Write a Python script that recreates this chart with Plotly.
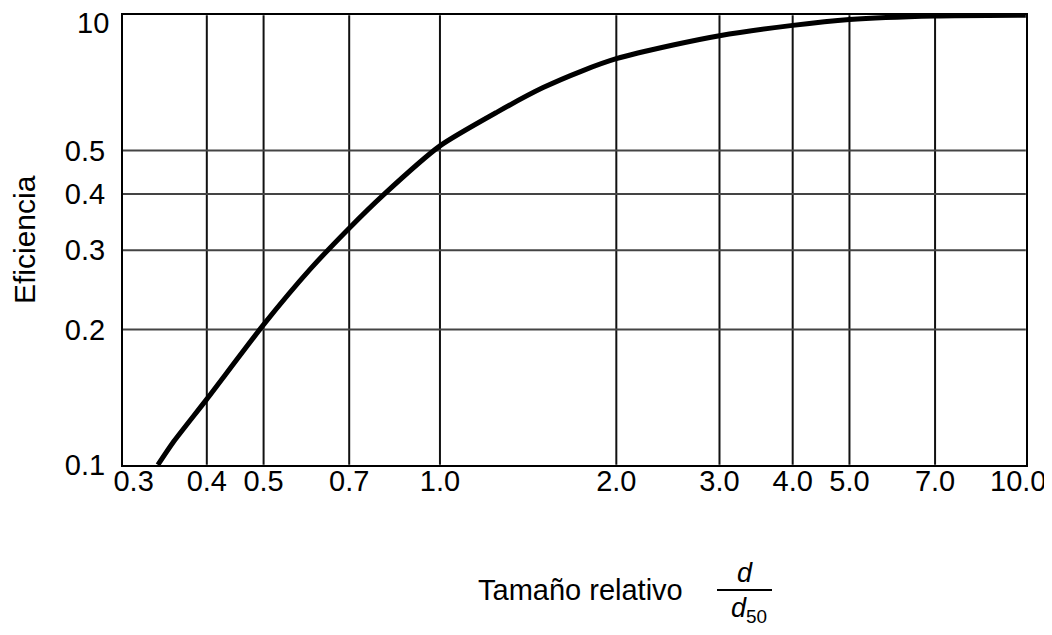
import plotly.graph_objects as go
import math

# ---- data ----
size_ratio = [0.33, 0.35, 0.40, 0.50, 0.60, 0.70, 0.80, 1.00, 1.25, 1.50, 1.75, 2.00, 2.50, 3.00, 4.00, 5.00, 7.00, 10.0]
efficiency = [0.100, 0.112, 0.140, 0.205, 0.272, 0.336, 0.398, 0.512, 0.608, 0.690, 0.752, 0.800, 0.858, 0.900, 0.949, 0.978, 0.996, 1.000]

x_tick_vals = [0.3, 0.4, 0.5, 0.7, 1.0, 2.0, 3.0, 4.0, 5.0, 7.0, 10.0]
x_tick_text = ["0.3", "0.4", "0.5", "0.7", "1.0", "2.0", "3.0", "4.0", "5.0", "7.0", "10.0"]
x_grid_vals = [0.4, 0.5, 0.7, 1.0, 2.0, 3.0, 4.0, 5.0, 7.0]

y_tick_vals = [0.1, 0.2, 0.3, 0.4, 0.5, 1.0]
y_tick_text = ["0.1", "0.2", "0.3", "0.4", "0.5", "10"]
y_grid_vals = [0.2, 0.3, 0.4, 0.5]

X_MIN, X_MAX = 0.2877, 10.0
Y_MIN, Y_MAX = 0.1, 1.0

FONT = "Liberation Sans, Arial, sans-serif"
TICK_FONT = dict(family=FONT, size=29, color="black")

# page body adds an 8px offset; screen coordinates below are converted
OFF = 8
W, H = 1052 - OFF, 635 - OFF
ml, mr, mt, mb = 123 - OFF, 26, 15 - OFF, 178 - OFF
pw, ph = W - ml - mr, H - mt - mb


def px(xs):
    return (xs - OFF - ml) / pw


def py(ys):
    return (H - mb - (ys - OFF)) / ph


fig = go.Figure()

# vertical grid lines
for gx in x_grid_vals:
    fig.add_trace(go.Scatter(x=[gx, gx], y=[Y_MIN, Y_MAX], mode="lines",
                             line=dict(color="#111111", width=2),
                             hoverinfo="skip", showlegend=False))
# horizontal grid lines
for gy in y_grid_vals:
    fig.add_trace(go.Scatter(x=[X_MIN, X_MAX], y=[gy, gy], mode="lines",
                             line=dict(color="#444444", width=2),
                             hoverinfo="skip", showlegend=False))

# efficiency curve
fig.add_trace(go.Scatter(x=size_ratio, y=efficiency, mode="lines",
                         line=dict(color="black", width=5, shape="spline", smoothing=0.6),
                         showlegend=False))

# the edge labels (last x tick, top y tick) are drawn as annotations so they stay inside the page
fig.update_xaxes(type="log", range=[-0.541, 1.0003],
                 tickvals=x_tick_vals[:-1], ticktext=x_tick_text[:-1],
                 showgrid=False, zeroline=False,
                 showline=True, mirror=True, linecolor="black", linewidth=2,
                 ticks="", ticklen=0, ticklabelstandoff=-11,
                 tickfont=TICK_FONT)
fig.update_yaxes(type="log", range=[-1.0003, 0.0003],
                 tickvals=y_tick_vals[:-1], ticktext=y_tick_text[:-1],
                 showgrid=False, zeroline=False,
                 showline=True, mirror=True, linecolor="black", linewidth=2,
                 ticks="", ticklabelstandoff=10,
                 tickfont=TICK_FONT)

annotations = [
    dict(text=x_tick_text[-1], x=math.log10(x_tick_vals[-1]), xref="x",
         y=py(481), yref="paper", xanchor="right", yanchor="middle", xshift=22,
         showarrow=False, font=TICK_FONT),
    dict(text=y_tick_text[-1], x=px(111), xref="paper",
         y=math.log10(y_tick_vals[-1]), yref="y", xanchor="right", yanchor="top", yshift=10,
         showarrow=False, font=TICK_FONT),
    dict(text="Eficiencia", x=px(24), y=py(240), xref="paper", yref="paper",
         xanchor="center", yanchor="middle",
         showarrow=False, textangle=-90,
         font=dict(family=FONT, size=30, color="black")),
    dict(text="Tamaño relativo", x=px(580), y=py(590), xref="paper", yref="paper",
         xanchor="center", yanchor="middle",
         showarrow=False, font=dict(family=FONT, size=29, color="black")),
    dict(text="<i>d</i>", x=px(745), y=py(573), xref="paper", yref="paper",
         xanchor="center", yanchor="middle",
         showarrow=False, font=dict(family=FONT, size=27, color="black")),
    dict(text="<i>d</i><sub>50</sub>", x=px(749), y=py(610), xref="paper", yref="paper",
         xanchor="center", yanchor="middle",
         showarrow=False, font=dict(family=FONT, size=27, color="black")),
]

shapes = [
    dict(type="line", xref="paper", yref="paper",
         x0=px(717), x1=px(772), y0=py(590), y1=py(590),
         line=dict(color="black", width=2)),
]

fig.update_layout(width=W, height=H,
                  margin=dict(l=ml, r=mr, t=mt, b=mb, autoexpand=False),
                  paper_bgcolor="white", plot_bgcolor="white",
                  annotations=annotations, shapes=shapes,
                  showlegend=False)

fig.write_html("out.html")
